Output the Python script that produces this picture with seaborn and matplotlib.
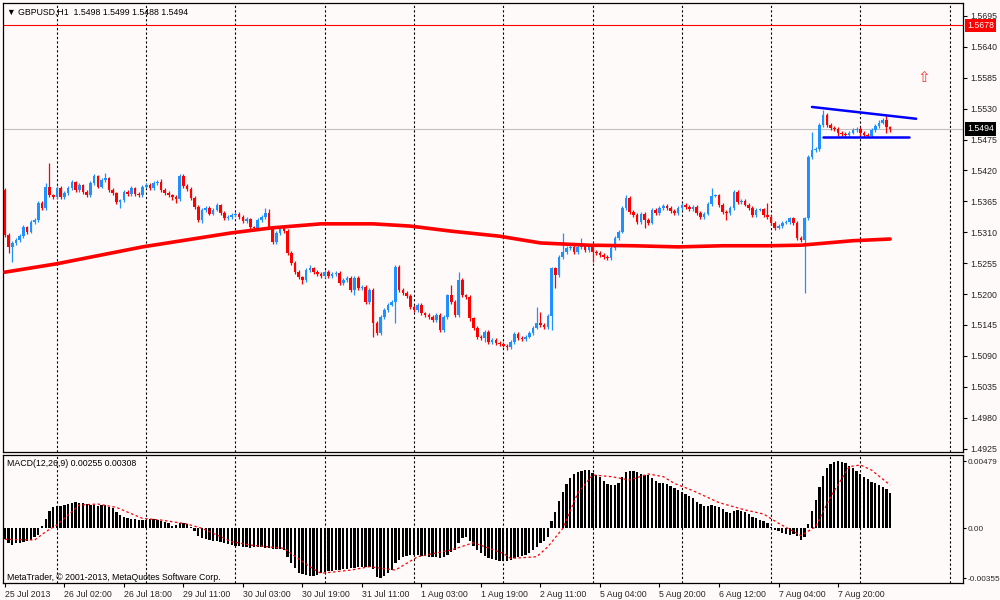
import numpy as np
import pandas as pd
import seaborn as sns
import matplotlib.pyplot as plt
import matplotlib.transforms as mtransforms

# GBPUSD H1, one entry per hourly bar (25 Jul 2013 .. 8 Aug 2013)
opens = [
    1.5385, 1.5305, 1.5284, 1.5291, 1.5296, 1.5303, 1.5319, 1.5311, 1.5328, 1.5332,
    1.5362, 1.5353, 1.5391, 1.5376, 1.5373, 1.5389, 1.5373, 1.5380, 1.5389, 1.5400,
    1.5385, 1.5394, 1.5382, 1.5376, 1.5398, 1.5410, 1.5391, 1.5403, 1.5407, 1.5385,
    1.5380, 1.5364, 1.5367, 1.5382, 1.5378, 1.5389, 1.5378, 1.5376, 1.5391, 1.5394,
    1.5389, 1.5398, 1.5400, 1.5385, 1.5380, 1.5376, 1.5373, 1.5369, 1.5410, 1.5392,
    1.5387, 1.5371, 1.5355, 1.5332, 1.5350, 1.5353, 1.5343, 1.5350, 1.5359, 1.5344,
    1.5335, 1.5337, 1.5341, 1.5343, 1.5337, 1.5330, 1.5334, 1.5319, 1.5318, 1.5332,
    1.5337, 1.5344, 1.5319, 1.5293, 1.5309, 1.5318, 1.5312, 1.5273, 1.5255, 1.5239,
    1.5230, 1.5225, 1.5243, 1.5246, 1.5239, 1.5236, 1.5232, 1.5239, 1.5232, 1.5236,
    1.5238, 1.5220, 1.5225, 1.5229, 1.5207, 1.5229, 1.5211, 1.5213, 1.5186, 1.5207,
    1.5149, 1.5131, 1.5159, 1.5172, 1.5181, 1.5186, 1.5248, 1.5207, 1.5202, 1.5197,
    1.5177, 1.5172, 1.5181, 1.5166, 1.5163, 1.5159, 1.5154, 1.5163, 1.5136, 1.5159,
    1.5198, 1.5186, 1.5163, 1.5225, 1.5198, 1.5195, 1.5157, 1.5140, 1.5124, 1.5122,
    1.5133, 1.5115, 1.5118, 1.5113, 1.5111, 1.5108, 1.5106, 1.5115, 1.5129, 1.5122,
    1.5120, 1.5124, 1.5131, 1.5140, 1.5149, 1.5145, 1.5141, 1.5161, 1.5246, 1.5234,
    1.5266, 1.5275, 1.5282, 1.5284, 1.5275, 1.5284, 1.5287, 1.5278, 1.5286, 1.5275,
    1.5273, 1.5270, 1.5266, 1.5264, 1.5282, 1.5300, 1.5311, 1.5353, 1.5371, 1.5346,
    1.5341, 1.5328, 1.5343, 1.5332, 1.5327, 1.5350, 1.5344, 1.5353, 1.5357, 1.5353,
    1.5348, 1.5344, 1.5353, 1.5359, 1.5355, 1.5351, 1.5355, 1.5344, 1.5337, 1.5343,
    1.5360, 1.5375, 1.5376, 1.5359, 1.5346, 1.5344, 1.5353, 1.5382, 1.5364, 1.5366,
    1.5359, 1.5353, 1.5341, 1.5350, 1.5351, 1.5341, 1.5337, 1.5327, 1.5318, 1.5321,
    1.5327, 1.5328, 1.5335, 1.5327, 1.5300, 1.5296, 1.5335, 1.5444, 1.5457, 1.5458,
    1.5501, 1.5519, 1.5501, 1.5496, 1.5494, 1.5487, 1.5485, 1.5483, 1.5487, 1.5492,
    1.5494, 1.5487, 1.5483, 1.5481, 1.5492, 1.5499, 1.5505, 1.5510, 1.5498,
]
highs = [
    1.5389, 1.5308, 1.5294, 1.5300, 1.5307, 1.5323, 1.5322, 1.5331, 1.5336, 1.5366,
    1.5365, 1.5398, 1.5433, 1.5379, 1.5392, 1.5392, 1.5383, 1.5392, 1.5403, 1.5402,
    1.5397, 1.5396, 1.5385, 1.5401, 1.5414, 1.5412, 1.5406, 1.5416, 1.5409, 1.5388,
    1.5382, 1.5370, 1.5385, 1.5385, 1.5392, 1.5391, 1.5382, 1.5394, 1.5398, 1.5397,
    1.5401, 1.5403, 1.5405, 1.5388, 1.5383, 1.5379, 1.5376, 1.5414, 1.5413, 1.5396,
    1.5390, 1.5374, 1.5358, 1.5353, 1.5357, 1.5356, 1.5354, 1.5362, 1.5361, 1.5347,
    1.5340, 1.5344, 1.5346, 1.5346, 1.5340, 1.5337, 1.5336, 1.5322, 1.5335, 1.5341,
    1.5353, 1.5351, 1.5322, 1.5313, 1.5321, 1.5321, 1.5315, 1.5276, 1.5258, 1.5242,
    1.5233, 1.5246, 1.5252, 1.5249, 1.5242, 1.5239, 1.5242, 1.5242, 1.5239, 1.5241,
    1.5241, 1.5228, 1.5232, 1.5232, 1.5232, 1.5232, 1.5216, 1.5216, 1.5210, 1.5210,
    1.5152, 1.5162, 1.5175, 1.5184, 1.5189, 1.5251, 1.5252, 1.5210, 1.5205, 1.5200,
    1.5180, 1.5184, 1.5184, 1.5169, 1.5166, 1.5162, 1.5166, 1.5166, 1.5162, 1.5201,
    1.5216, 1.5189, 1.5239, 1.5229, 1.5201, 1.5198, 1.5160, 1.5143, 1.5127, 1.5136,
    1.5136, 1.5121, 1.5121, 1.5116, 1.5114, 1.5111, 1.5118, 1.5132, 1.5132, 1.5125,
    1.5127, 1.5134, 1.5143, 1.5177, 1.5168, 1.5148, 1.5164, 1.5249, 1.5249, 1.5269,
    1.5309, 1.5285, 1.5288, 1.5287, 1.5287, 1.5300, 1.5290, 1.5289, 1.5289, 1.5278,
    1.5276, 1.5273, 1.5269, 1.5285, 1.5303, 1.5314, 1.5356, 1.5376, 1.5374, 1.5349,
    1.5344, 1.5346, 1.5346, 1.5335, 1.5353, 1.5353, 1.5356, 1.5360, 1.5360, 1.5356,
    1.5351, 1.5356, 1.5362, 1.5362, 1.5358, 1.5358, 1.5358, 1.5347, 1.5346, 1.5363,
    1.5389, 1.5379, 1.5379, 1.5362, 1.5349, 1.5356, 1.5385, 1.5385, 1.5369, 1.5369,
    1.5362, 1.5356, 1.5353, 1.5354, 1.5354, 1.5362, 1.5340, 1.5330, 1.5324, 1.5330,
    1.5331, 1.5338, 1.5338, 1.5330, 1.5303, 1.5338, 1.5447, 1.5489, 1.5462, 1.5504,
    1.5528, 1.5522, 1.5504, 1.5499, 1.5497, 1.5490, 1.5488, 1.5490, 1.5495, 1.5497,
    1.5497, 1.5490, 1.5486, 1.5495, 1.5502, 1.5510, 1.5513, 1.5519, 1.5499,
]
lows = [
    1.5302, 1.5273, 1.5257, 1.5287, 1.5292, 1.5300, 1.5307, 1.5308, 1.5325, 1.5329,
    1.5349, 1.5350, 1.5372, 1.5369, 1.5370, 1.5369, 1.5370, 1.5377, 1.5386, 1.5382,
    1.5382, 1.5379, 1.5372, 1.5373, 1.5395, 1.5388, 1.5388, 1.5400, 1.5382, 1.5376,
    1.5361, 1.5353, 1.5364, 1.5375, 1.5375, 1.5374, 1.5372, 1.5373, 1.5388, 1.5385,
    1.5386, 1.5395, 1.5382, 1.5377, 1.5372, 1.5368, 1.5362, 1.5366, 1.5388, 1.5383,
    1.5367, 1.5351, 1.5328, 1.5327, 1.5346, 1.5340, 1.5340, 1.5347, 1.5341, 1.5331,
    1.5332, 1.5334, 1.5338, 1.5334, 1.5326, 1.5327, 1.5315, 1.5314, 1.5315, 1.5329,
    1.5334, 1.5316, 1.5289, 1.5290, 1.5306, 1.5309, 1.5269, 1.5251, 1.5235, 1.5226,
    1.5218, 1.5222, 1.5240, 1.5236, 1.5233, 1.5229, 1.5229, 1.5229, 1.5229, 1.5233,
    1.5216, 1.5217, 1.5222, 1.5203, 1.5198, 1.5207, 1.5208, 1.5182, 1.5183, 1.5124,
    1.5127, 1.5127, 1.5156, 1.5169, 1.5178, 1.5149, 1.5204, 1.5198, 1.5193, 1.5173,
    1.5168, 1.5169, 1.5162, 1.5159, 1.5156, 1.5151, 1.5151, 1.5133, 1.5133, 1.5156,
    1.5183, 1.5159, 1.5160, 1.5194, 1.5191, 1.5153, 1.5136, 1.5120, 1.5118, 1.5115,
    1.5112, 1.5112, 1.5110, 1.5108, 1.5105, 1.5101, 1.5103, 1.5112, 1.5119, 1.5117,
    1.5117, 1.5121, 1.5128, 1.5137, 1.5142, 1.5138, 1.5138, 1.5136, 1.5211, 1.5231,
    1.5263, 1.5272, 1.5279, 1.5272, 1.5272, 1.5281, 1.5275, 1.5275, 1.5257, 1.5270,
    1.5266, 1.5263, 1.5261, 1.5261, 1.5279, 1.5297, 1.5308, 1.5350, 1.5342, 1.5337,
    1.5324, 1.5325, 1.5318, 1.5323, 1.5324, 1.5341, 1.5341, 1.5350, 1.5350, 1.5345,
    1.5340, 1.5341, 1.5350, 1.5352, 1.5348, 1.5348, 1.5340, 1.5333, 1.5334, 1.5340,
    1.5357, 1.5372, 1.5355, 1.5342, 1.5332, 1.5341, 1.5350, 1.5361, 1.5361, 1.5356,
    1.5349, 1.5337, 1.5338, 1.5347, 1.5337, 1.5334, 1.5323, 1.5314, 1.5315, 1.5318,
    1.5324, 1.5325, 1.5323, 1.5296, 1.5292, 1.5202, 1.5332, 1.5441, 1.5453, 1.5455,
    1.5498, 1.5497, 1.5492, 1.5490, 1.5482, 1.5481, 1.5480, 1.5480, 1.5484, 1.5489,
    1.5481, 1.5480, 1.5480, 1.5480, 1.5489, 1.5496, 1.5502, 1.5487, 1.5488,
]
closes = [
    1.5305, 1.5284, 1.5291, 1.5296, 1.5303, 1.5319, 1.5311, 1.5328, 1.5332, 1.5362,
    1.5353, 1.5391, 1.5376, 1.5373, 1.5389, 1.5373, 1.5380, 1.5389, 1.5400, 1.5385,
    1.5394, 1.5382, 1.5376, 1.5398, 1.5410, 1.5391, 1.5403, 1.5407, 1.5385, 1.5380,
    1.5364, 1.5367, 1.5382, 1.5378, 1.5389, 1.5378, 1.5376, 1.5391, 1.5394, 1.5389,
    1.5398, 1.5400, 1.5385, 1.5380, 1.5376, 1.5373, 1.5369, 1.5410, 1.5392, 1.5387,
    1.5371, 1.5355, 1.5332, 1.5350, 1.5353, 1.5343, 1.5350, 1.5359, 1.5344, 1.5335,
    1.5337, 1.5341, 1.5343, 1.5337, 1.5330, 1.5334, 1.5319, 1.5318, 1.5332, 1.5337,
    1.5344, 1.5319, 1.5293, 1.5309, 1.5318, 1.5312, 1.5273, 1.5255, 1.5239, 1.5230,
    1.5225, 1.5243, 1.5246, 1.5239, 1.5236, 1.5232, 1.5239, 1.5232, 1.5236, 1.5238,
    1.5220, 1.5225, 1.5229, 1.5207, 1.5229, 1.5211, 1.5213, 1.5186, 1.5207, 1.5149,
    1.5131, 1.5159, 1.5172, 1.5181, 1.5186, 1.5248, 1.5207, 1.5202, 1.5197, 1.5177,
    1.5172, 1.5181, 1.5166, 1.5163, 1.5159, 1.5154, 1.5163, 1.5136, 1.5159, 1.5198,
    1.5186, 1.5163, 1.5225, 1.5198, 1.5195, 1.5157, 1.5140, 1.5124, 1.5122, 1.5133,
    1.5115, 1.5118, 1.5113, 1.5111, 1.5108, 1.5106, 1.5115, 1.5129, 1.5122, 1.5120,
    1.5124, 1.5131, 1.5140, 1.5149, 1.5145, 1.5141, 1.5161, 1.5246, 1.5234, 1.5266,
    1.5275, 1.5282, 1.5284, 1.5275, 1.5284, 1.5287, 1.5278, 1.5286, 1.5275, 1.5273,
    1.5270, 1.5266, 1.5264, 1.5282, 1.5300, 1.5311, 1.5353, 1.5371, 1.5346, 1.5341,
    1.5328, 1.5343, 1.5332, 1.5327, 1.5350, 1.5344, 1.5353, 1.5357, 1.5353, 1.5348,
    1.5344, 1.5353, 1.5359, 1.5355, 1.5351, 1.5355, 1.5344, 1.5337, 1.5343, 1.5360,
    1.5375, 1.5376, 1.5359, 1.5346, 1.5344, 1.5353, 1.5382, 1.5364, 1.5366, 1.5359,
    1.5353, 1.5341, 1.5350, 1.5351, 1.5341, 1.5337, 1.5327, 1.5318, 1.5321, 1.5327,
    1.5328, 1.5335, 1.5327, 1.5300, 1.5296, 1.5335, 1.5444, 1.5457, 1.5458, 1.5501,
    1.5519, 1.5501, 1.5496, 1.5494, 1.5487, 1.5485, 1.5483, 1.5487, 1.5492, 1.5494,
    1.5487, 1.5483, 1.5481, 1.5492, 1.5499, 1.5505, 1.5510, 1.5498, 1.5494,
]

# moving average (thick red line), read at some bars
ma_bars = [0, 14, 37, 61, 72, 85, 99, 109, 120, 133, 144, 157, 169, 181, 193, 205, 214, 228, 238]
ma_vals = [1.5239, 1.5254, 1.5284, 1.5309, 1.5318, 1.5325, 1.5325, 1.5321, 1.5312, 1.5303,
           1.5291, 1.5287, 1.5286, 1.5284, 1.5286, 1.5286, 1.5287, 1.5295, 1.5298]

# MACD(12,26,9) histogram, in units of 0.00001
macd_e5 = [
    -78, -107, -119, -107, -102, -95, -88, -83, -64, -47,
    17, 66, 123, 150, 159, 159, 166, 171, 178, 185,
    183, 178, 173, 166, 166, 159, 164, 166, 154, 142,
    119, 95, 78, 71, 66, 64, 59, 59, 59, 64,
    66, 59, 52, 47, 36, 17, 24, 40, 40, 31,
    7, -17, -55, -71, -78, -83, -88, -90, -95, -102,
    -112, -119, -123, -126, -131, -135, -138, -135, -135, -135,
    -138, -142, -150, -150, -147, -154, -202, -249, -285, -316,
    -327, -332, -337, -337, -332, -320, -308, -301, -301, -297,
    -297, -292, -287, -285, -280, -273, -273, -278, -278, -292,
    -344, -355, -339, -320, -297, -249, -225, -206, -197, -192,
    -190, -190, -195, -197, -202, -202, -206, -214, -206, -190,
    -166, -154, -107, -66, -59, -88, -126, -154, -178, -197,
    -214, -221, -225, -230, -232, -232, -225, -214, -206, -197,
    -190, -178, -154, -131, -107, -88, -64, 52, 119, 197,
    261, 316, 356, 384, 403, 411, 415, 415, 392, 380,
    363, 339, 316, 308, 308, 320, 368, 403, 408, 408,
    403, 387, 380, 380, 356, 339, 325, 325, 316, 301,
    285, 273, 261, 244, 230, 214, 190, 173, 159, 159,
    166, 159, 150, 135, 119, 112, 126, 131, 126, 119,
    102, 83, 71, 59, 55, 36, 7, -12, -19, -31,
    -40, -47, -40, -55, -83, -64, 31, 126, 202, 292,
    373, 427, 458, 475, 479, 475, 463, 444, 427, 411,
    387, 368, 349, 332, 320, 312, 295, 280, 255,
]
# signal line, read at some bars (0.00001 units)
signal_bars = [0, 8, 11, 14, 20, 25, 30, 37, 42, 49, 53, 61, 66, 75, 82, 85, 93, 98, 105,
               111, 120, 126, 134, 136, 143, 146, 150, 154, 158, 163, 168, 173, 177, 180,
               185, 192, 199, 204, 208, 213, 214, 218, 222, 227, 230, 233, 238]
signal_e5 = [-78, -83, -24, 24, 166, 173, 149, 71, 59, 31, 0, -95, -119, -142, -273, -320,
             -297, -273, -297, -202, -154, -102, -178, -214, -202, -131, 0, 249, 380, 368,
             344, 387, 368, 320, 268, 183, 131, 102, 36, -36, -52, 12, 225, 439, 451, 415, 308]

# drawn objects
upper_trend_bars = [217, 245]
upper_trend_vals = [1.5533, 1.5512]
lower_trend_bars = [220, 243]
lower_trend_vals = [1.5480, 1.5480]
arrow_bar, arrow_price = 247, 1.5586
alert_level = 1.5678
last_price = 1.5494

price_ticks = [1.5695, 1.5640, 1.5585, 1.5530, 1.5475, 1.5420, 1.5365, 1.5310,
               1.5255, 1.5200, 1.5145, 1.5090, 1.5035, 1.4980, 1.4925]
macd_ticks = [0.00479, 0.0, -0.00355]
macd_tick_labels = ['0.00479', '0.00', '-0.00355']
label_bars = [0, 16, 32, 48, 64, 80, 96, 112, 128, 144, 160, 176, 192, 208, 224]
date_labels = ['25 Jul 2013', '26 Jul 02:00', '26 Jul 18:00', '29 Jul 11:00', '30 Jul 03:00',
               '30 Jul 19:00', '31 Jul 11:00', '1 Aug 03:00', '1 Aug 19:00', '2 Aug 11:00',
               '5 Aug 04:00', '5 Aug 20:00', '6 Aug 12:00', '7 Aug 04:00', '7 Aug 20:00']
grid_bars = [14, 38, 62, 86, 110, 134, 158, 182, 206, 230, 254]

BG = '#fffafa'
BULL = '#1e90ff'
BEAR = '#ff0000'
FS = 6.3

sns.set_theme(style='white')
plt.rcParams['font.family'] = ['Liberation Sans', 'DejaVu Sans']

fig = plt.figure(figsize=(10, 6), dpi=100, facecolor=BG)
ax = fig.add_axes([0.003, 1 - 452 / 600, 0.960, 449 / 600])
ax2 = fig.add_axes([0.003, 1 - 583 / 600, 0.960, 128 / 600], sharex=ax)

df = pd.DataFrame({'open': opens, 'high': highs, 'low': lows, 'close': closes})
df['bar'] = np.arange(len(df))
up = df['close'] >= df['open']
colors = np.where(up, BULL, BEAR)

for a in (ax, ax2):
    a.set_facecolor(BG)
    for s in a.spines.values():
        s.set_color('black')
        s.set_linewidth(0.9)
    for b in grid_bars:
        a.axvline(b, color='black', ls=(0, (2, 2)), lw=0.8, zorder=1)

# candles
ax.vlines(df['bar'], df['low'], df['high'], colors=colors, lw=0.9, zorder=3)
body = np.maximum((df['close'] - df['open']).abs(), 0.00009)
ax.bar(df['bar'], body, bottom=np.minimum(df['open'], df['close']), width=0.7,
       color=colors, linewidth=0, zorder=4)

sns.lineplot(x=ma_bars, y=ma_vals, ax=ax, color='#ff0000', lw=2.6, estimator=None, zorder=5)

ax.axhline(alert_level, color='#ff0000', lw=0.8, zorder=2)
ax.axhline(last_price, color='#c0c0c0', lw=0.8, zorder=2)
ax.plot(upper_trend_bars, upper_trend_vals, color='#0000ff', lw=1.8, zorder=6)
ax.plot(lower_trend_bars, lower_trend_vals, color='#0000ff', lw=1.8, zorder=6)
ax.text(arrow_bar, arrow_price, '\u21e7', color='#ff3030', fontsize=11, ha='center',
        va='center', family=['DejaVu Sans'], zorder=6)

ax.set_xlim(-0.5, 257.6)
ax.set_ylim(1.4919, 1.5718)
ax.yaxis.tick_right()
ax.set_yticks(price_ticks, labels=[f'{p:.4f}' for p in price_ticks])
ax.tick_params(axis='y', length=3, width=0.8, pad=2, labelsize=FS, color='black', direction='out', right=True)
ax.tick_params(axis='x', bottom=False, labelbottom=False)

trans = mtransforms.blended_transform_factory(ax.transAxes, ax.transData)
ax.text(1.004, alert_level, f'{alert_level:.4f}', transform=trans, color='white', fontsize=FS,
        va='center', ha='left', clip_on=False,
        bbox=dict(boxstyle='square,pad=0.25', fc='#ff0000', ec='none'))
ax.text(1.004, last_price, f'{last_price:.4f}', transform=trans, color='white', fontsize=FS,
        va='center', ha='left', clip_on=False,
        bbox=dict(boxstyle='square,pad=0.25', fc='black', ec='none'))

ax.text(0.004, 1 - 9 / 449, '\u25bc GBPUSD,H1  1.5498 1.5499 1.5488 1.5494',
        transform=ax.transAxes, fontsize=FS, va='center', ha='left', color='black')

# MACD panel
macd = np.array(macd_e5) * 1e-5
sns.barplot(x=df['bar'], y=macd, native_scale=True, color='black', width=0.62,
            errorbar=None, saturation=1, linewidth=0, ax=ax2, zorder=3)
sns.lineplot(x=signal_bars, y=np.array(signal_e5) * 1e-5, ax=ax2, color='#ff0000',
             lw=0.9, linestyle=(0, (2, 2)), estimator=None, zorder=4)
ax2.set_xlim(-0.5, 257.6)
ax2.set_ylim(-0.00389, 0.00522)
ax2.yaxis.tick_right()
ax2.set_yticks(macd_ticks, labels=macd_tick_labels)
ax2.tick_params(axis='y', length=2.5, width=0.8, pad=1, labelsize=5.9, color='black',
                direction='out', right=True)
ax2.set_xticks(label_bars, labels=date_labels)
for lbl in ax2.get_xticklabels():
    lbl.set_horizontalalignment('left')
ax2.tick_params(axis='x', length=3, width=0.8, pad=2, labelsize=FS, color='black',
                direction='out', bottom=True)
ax2.set_xlabel('')
ax2.set_ylabel('')
ax.set_xlabel('')
ax.set_ylabel('')

ax2.text(0.004, 1 - 8 / 128, 'MACD(12,26,9) 0.00255 0.00308', transform=ax2.transAxes,
         fontsize=FS, va='center', ha='left', color='black')
ax2.text(0.004, 6 / 128, 'MetaTrader, \u00a9 2001-2013, MetaQuotes Software Corp.',
         transform=ax2.transAxes, fontsize=FS, va='center', ha='left', color='black')

fig.savefig('out.png', dpi=100, facecolor=BG)
